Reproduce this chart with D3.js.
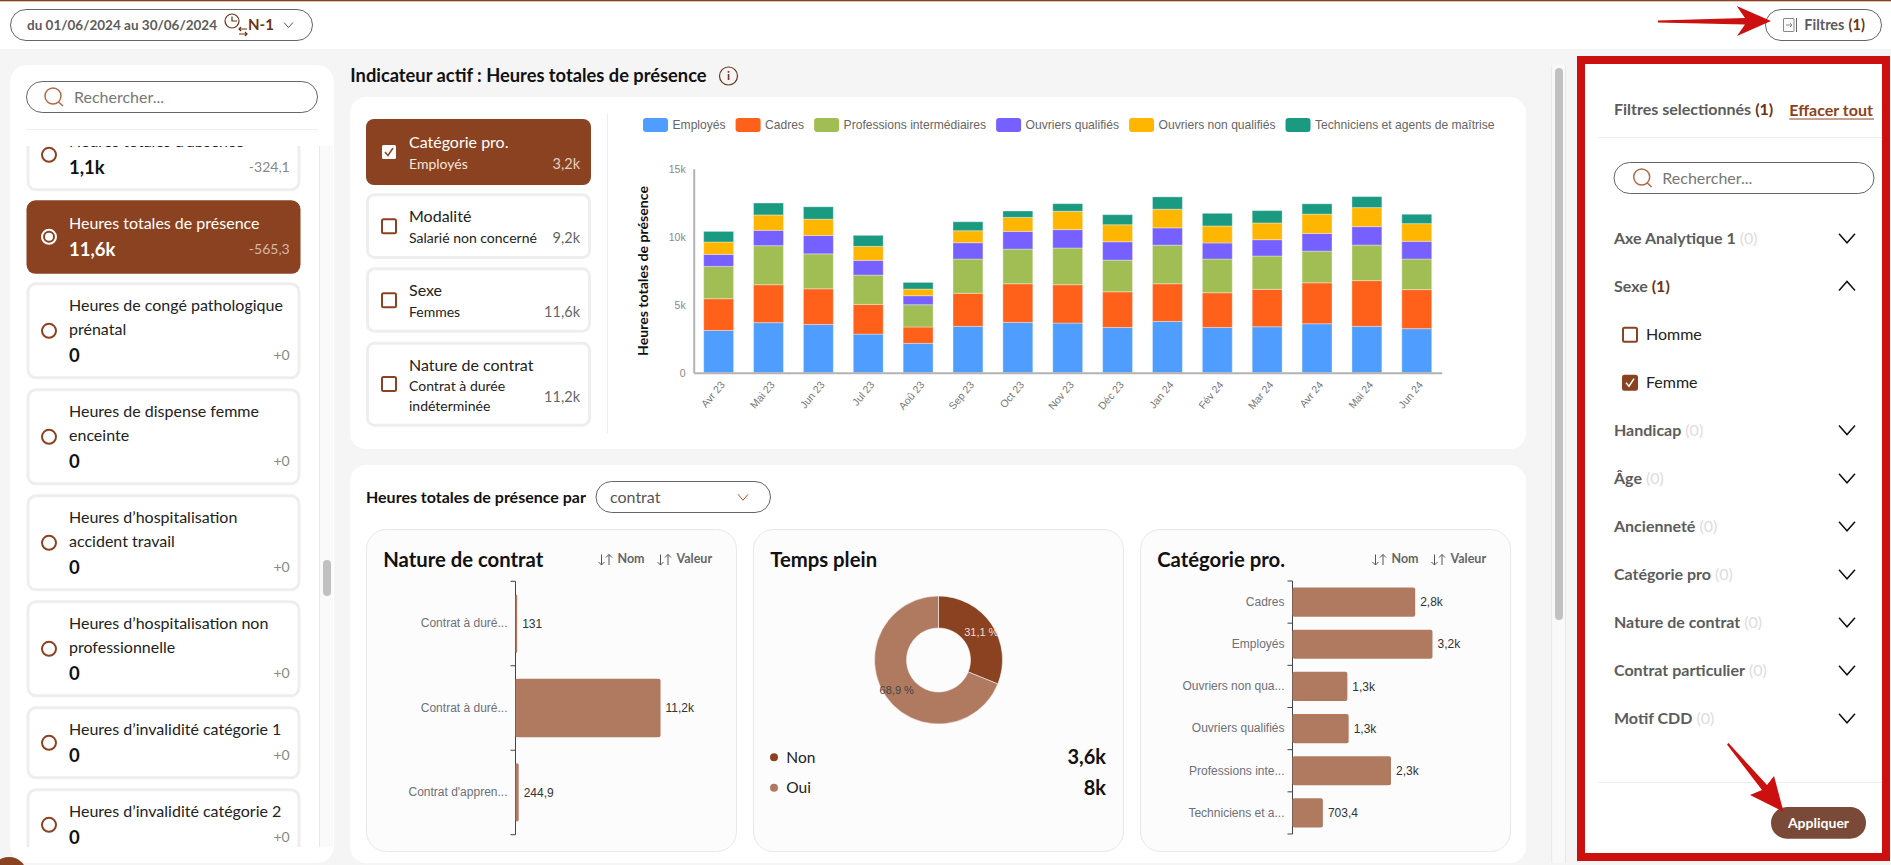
<!DOCTYPE html>
<html>
<head>
<meta charset="utf-8">
<title>Heures totales de présence</title>
<script src="https://d3js.org/d3.v7.min.js"></script>
<style>
    html, body { margin: 0; padding: 0; background: #f5f5f5; overflow: hidden; }
    svg { display: block; font-family: Lato, sans-serif; }
    .chart-text { font-family: "Liberation Sans", Arial, sans-serif; }
</style>
</head>
<body>
<svg id="page" width="1891" height="865"></svg>
<script>
// stacked chart
const months = ["Avr 23", "Mai 23", "Jun 23", "Jul 23", "Aoû 23", "Sep 23", "Oct 23", "Nov 23", "Déc 23", "Jan 24", "Fév 24", "Mar 24", "Avr 24", "Mai 24", "Jun 24"]
const seriesNames = ["Employés", "Cadres", "Professions intermédiaires", "Ouvriers qualifiés", "Ouvriers non qualifiés", "Techniciens et agents de maîtrise"]
const seriesColors = ["#4f9eff", "#ff611b", "#a1be55", "#7660ff", "#ffb600", "#1b9a82"]
const employes = [3110, 3680, 3550, 2840, 2160, 3410, 3700, 3650, 3330, 3770, 3330, 3380, 3600, 3410, 3240]
const cadres = [2330, 2790, 2620, 2180, 1200, 2430, 2840, 2820, 2620, 2770, 2550, 2750, 3010, 3360, 2870]
const professions = [2380, 2870, 2570, 2160, 1640, 2520, 2550, 2700, 2330, 2840, 2480, 2450, 2330, 2620, 2250]
const ouvriersQ = [880, 1130, 1350, 1080, 660, 1200, 1300, 1350, 1350, 1270, 1180, 1200, 1300, 1350, 1300]
const ouvriersNQ = [910, 1130, 1200, 1030, 490, 880, 1030, 1350, 1250, 1370, 1250, 1230, 1420, 1400, 1300]
const techniciens = [780, 880, 910, 810, 490, 660, 470, 560, 740, 910, 930, 910, 760, 810, 690]
const allSeries = [employes, cadres, professions, ouvriersQ, ouvriersNQ, techniciens]
const yTicks = [0, 5000, 10000, 15000]

// side list of indicators
const indicatorLabels = [
    ["Heures totales d’absence"],
    ["Heures totales de présence"],
    ["Heures de congé pathologique", "prénatal"],
    ["Heures de dispense femme", "enceinte"],
    ["Heures d’hospitalisation", "accident travail"],
    ["Heures d’hospitalisation non", "professionnelle"],
    ["Heures d’invalidité catégorie 1"],
    ["Heures d’invalidité catégorie 2"]
]
const indicatorValues = ["1,1k", "11,6k", "0", "0", "0", "0", "0", "0"]
const indicatorDeltas = ["-324,1", "-565,3", "+0", "+0", "+0", "+0", "+0", "+0"]

// axis chips
const chipTitles = ["Catégorie pro.", "Modalité", "Sexe", "Nature de contrat"]
const chipSubs = [["Employés"], ["Salarié non concerné"], ["Femmes"], ["Contrat à durée", "indéterminée"]]
const chipValues = ["3,2k", "9,2k", "11,6k", "11,2k"]

// small charts
const contratCats = ["Contrat à duré...", "Contrat à duré...", "Contrat d'appren..."]
const contratVals = [131, 11200, 244.9]
const tempsCats = ["Non", "Oui"]
const tempsShare = [31.1, 68.9]
const tempsTotals = ["3,6k", "8k"]
const tempsColors = ["#8b4220", "#b07a60"]
const categorieCats = ["Cadres", "Employés", "Ouvriers non qua...", "Ouvriers qualifiés", "Professions inte...", "Techniciens et a..."]
const categorieVals = [2840, 3240, 1270, 1300, 2280, 703.4]

// filters
const filterNames = ["Axe Analytique 1", "Sexe", "Handicap", "Âge", "Ancienneté", "Catégorie pro", "Nature de contrat", "Contrat particulier", "Motif CDD"]
const filterCounts = [0, 1, 0, 0, 0, 0, 0, 0, 0]
const filterY = [238.3, 286, 430, 478.3, 526.3, 574.3, 622.3, 670.3, 718.3]

const brown = "#8b4220"
const barBrown = "#b07a60"
const svg = d3.select("#page")

function txt(g, x, y, s, size, color, opt) {
    opt = opt || {}
    return g.append("text")
        .attr("x", x).attr("y", y)
        .attr("dy", "0.35em")
        .attr("font-size", size)
        .attr("fill", color)
        .attr("font-weight", opt.weight || 400)
        .attr("text-anchor", opt.anchor || "start")
        .attr("class", opt.cls || null)
        .text(s)
}

function box(g, x0, y0, x1, y1, r, fill, stroke, sw) {
    return g.append("rect")
        .attr("x", x0).attr("y", y0)
        .attr("width", x1 - x0).attr("height", y1 - y0)
        .attr("rx", r)
        .attr("fill", fill)
        .attr("stroke", stroke || "none")
        .attr("stroke-width", sw || 1)
}

function hline(g, x0, x1, y, color) {
    g.append("line").attr("x1", x0).attr("x2", x1).attr("y1", y).attr("y2", y).attr("stroke", color)
}

function vline(g, x, y0, y1, color) {
    g.append("line").attr("x1", x).attr("x2", x).attr("y1", y0).attr("y2", y1).attr("stroke", color)
}

function chevron(g, cx, cy, w, h, up, color, sw) {
    let d = up ? `M${cx - w},${cy + h} L${cx},${cy - h} L${cx + w},${cy + h}`
               : `M${cx - w},${cy - h} L${cx},${cy + h} L${cx + w},${cy - h}`
    g.append("path").attr("d", d).attr("fill", "none").attr("stroke", color).attr("stroke-width", sw)
}

function searchBox(g, x0, x1, y0, y1, iconX, textX) {
    box(g, x0, y0, x1, y1, 15.7, "#fff", "#666", 1)
    let cy = (y0 + y1) / 2
    g.append("circle").attr("cx", iconX).attr("cy", cy - 1).attr("r", 8).attr("fill", "none").attr("stroke", "#b06a48").attr("stroke-width", 1.5)
    g.append("path").attr("d", `M${iconX + 5.5},${cy + 5} L${iconX + 10},${cy + 9}`).attr("stroke", "#b06a48").attr("stroke-width", 1.5)
    txt(g, textX, cy, "Rechercher...", 16, "#777")
}

function checkBox(g, x, cy, checked, boxFill, tickColor) {
    box(g, x + 1, cy - 7, x + 15, cy + 7, 1.5, checked ? boxFill : "none", checked && boxFill === "#fff" ? "none" : brown, 2)
    if (checked) {
        g.append("path").attr("d", `M${x + 4},${cy} L${x + 7},${cy + 3.5} L${x + 12},${cy - 4}`)
            .attr("fill", "none").attr("stroke", tickColor).attr("stroke-width", 1.5)
    }
}

function fmtValue(v) {
    if (v >= 1000) return d3.format(".1f")(v / 1000).replace(".", ",") + "k"
    return String(v).replace(".", ",")
}

/* ---------- header ---------- */
let header = svg.append("g")
header.append("rect").attr("width", 1891).attr("height", 49).attr("fill", "#fff")
header.append("rect").attr("width", 1891).attr("height", 1.3).attr("fill", brown)
box(header, 10.5, 9.5, 312.5, 40.5, 15.5, "#fff", "#666", 1)
txt(header, 27, 25, "du 01/06/2024 au 30/06/2024", 13.5, "#5c5c5c", { weight: 700 })
header.append("circle").attr("cx", 232).attr("cy", 21).attr("r", 7).attr("fill", "none").attr("stroke", "#6b3318").attr("stroke-width", 1.2)
header.append("path").attr("d", "M232,16.5 V21 H237 M239,29 H247 M241,27 L239,29 L241,31 M239,34 H247 M245,32 L247,34 L245,36")
    .attr("fill", "none").attr("stroke", "#6b3318").attr("stroke-width", 1.2)
txt(header, 248, 25, "N-1", 15, "#6b3318", { weight: 700 })
chevron(header, 288.5, 25, 4.5, 2.5, false, "#555", 1)

box(header, 1765.5, 9.5, 1881.5, 40.5, 15.5, "#fff", "#666", 1)
box(header, 1783.5, 18.5, 1794, 31.5, 0.5, "none", "#888", 1)
vline(header, 1796.5, 18, 32, "#666")
header.append("path").attr("d", "M1786,25 H1792 M1790,23 L1792,25 L1790,27").attr("fill", "none").attr("stroke", "#888")
txt(header, 1804.3, 25, "Filtres", 14.5, "#5c5c5c", { weight: 700 })
txt(header, 1848.5, 25, "(1)", 14.5, "#6b3318", { weight: 700 })

/* ---------- left list ---------- */
let left = svg.append("g")
left.append("path")
    .attr("d", "M10,85 Q10,65 30,65 H314 Q334,65 334,85 V843 Q334,863 314,863 H30 Q10,863 10,843 Z")
    .attr("fill", "#fff")
left.append("rect").attr("x", 319).attr("y", 146).attr("width", 14).attr("height", 701).attr("fill", "#fafafa")
vline(left, 319.5, 146, 847, "#e8e8e8")
box(left, 323, 560, 331, 596, 4, "#c1c1c1")
searchBox(left, 26.5, 317.5, 81.5, 112.5, 53, 74)
hline(left, 26, 318, 129.5, "#eee")

svg.append("clipPath").attr("id", "listClip").append("rect").attr("x", 10).attr("y", 146).attr("width", 309).attr("height", 701)
let list = left.append("g").attr("clip-path", "url(#listClip)")
let cardTop = 118.3
indicatorLabels.forEach((lines, i) => {
    let active = i === 1
    let h = lines.length === 2 ? 97 : 73
    if (active) {
        box(list, 26.5, cardTop, 300.5, cardTop + h + 0.5, 9, brown)
    } else {
        box(list, 28, cardTop + 1.5, 299, cardTop + h - 1.5, 8, "#fff", "#eeeeee", 3)
    }
    let color = active ? "#fff" : "#222"
    lines.forEach((l, j) => txt(list, 69, cardTop + 23.2 + j * 24, l, 16, color))
    txt(list, 69, cardTop + h - 24, indicatorValues[i], 18.5, active ? "#fff" : "#111", { weight: 700 })
    txt(list, 289.7, cardTop + h - 24.5, indicatorDeltas[i], 14, active ? "#d5b8a8" : "#888", { anchor: "end" })
    let cy = cardTop + h / 2
    list.append("circle").attr("cx", 49).attr("cy", cy).attr("r", 7).attr("fill", "none")
        .attr("stroke", active ? "#fff" : brown).attr("stroke-width", 2)
    if (active) list.append("circle").attr("cx", 49).attr("cy", cy).attr("r", 4).attr("fill", "#fff")
    cardTop += h + 9
})
svg.append("circle").attr("cx", 9).attr("cy", 875).attr("r", 18).attr("fill", brown)

/* ---------- top panel ---------- */
let mid = svg.append("g")
txt(mid, 350.3, 76, "Indicateur actif : Heures totales de présence", 18.3, "#111", { weight: 700 })
mid.append("circle").attr("cx", 728.5).attr("cy", 76).attr("r", 9).attr("fill", "none").attr("stroke", "#6b3318").attr("stroke-width", 1.2)
txt(mid, 728.5, 76, "i", 12, "#6b3318", { anchor: "middle", weight: 700 })
box(mid, 350, 97, 1526, 449, 16, "#fff")
vline(mid, 607.5, 113, 433, "#eee")

let chipTops = [119, 193.3, 267.3, 341.7]
let chipBottoms = [185, 259, 332.7, 426.7]
chipTitles.forEach((t, i) => {
    let active = i === 0
    if (active) box(mid, 366, chipTops[i], 591, chipBottoms[i], 8, brown)
    else box(mid, 367.5, chipTops[i] + 1.5, 589.5, chipBottoms[i] - 1.5, 7, "#fff", "#eeeeee", 3)
    let y = chipTops[i] + 23.4
    txt(mid, 409, y, t, 16, active ? "#fff" : "#222")
    chipSubs[i].forEach((s, j) => txt(mid, 409, y + 21.4 + j * 20, s, 14, active ? "#f3e6de" : "#222"))
    let valueY = y + 21.4 + (chipSubs[i].length - 1) * 10
    txt(mid, 580, valueY, chipValues[i], 14.5, active ? "#e3cfc3" : "#666", { anchor: "end" })
    checkBox(mid, 381, chipTops[i] + 33 + (i === 3 ? 9.3 : 0), active, "#fff", brown)
})

/* ---------- stacked bars ---------- */
let table = months.map((m, i) => {
    let row = { month: m }
    seriesNames.forEach((s, k) => { row[s] = allSeries[k][i] })
    return row
})
let stacked = d3.stack().keys(seriesNames)(table)
let xMonth = d3.scaleBand().domain(months).range([693.7, 1441.7]).paddingInner(0.4).paddingOuter(0.2)
let yHours = d3.scaleLinear().domain([0, 15000]).range([372.7, 168.7])

let chart = svg.append("g").attr("class", "chart-text")
chart.selectAll("g.serie").data(stacked).enter().append("g")
    .attr("class", "serie")
    .attr("fill", (d, i) => seriesColors[i])
    .selectAll("rect").data(d => d).enter().append("rect")
    .attr("x", d => xMonth(d.data.month))
    .attr("width", xMonth.bandwidth())
    .attr("y", d => yHours(d[1]))
    .attr("height", d => yHours(d[0]) - yHours(d[1]))
    .attr("stroke", "#fff").attr("stroke-opacity", 0.35).attr("stroke-width", 1)

let yAxis = chart.append("g").attr("transform", "translate(693.7,0)")
    .call(d3.axisLeft(yHours).tickValues(yTicks).tickSize(0).tickPadding(8).tickFormat(d => d === 0 ? "0" : (d / 1000) + "k"))
yAxis.select(".domain").attr("stroke", "#b3b3b3").attr("stroke-width", 2)
yAxis.selectAll("text").attr("font-size", 10.5).attr("fill", "#888").attr("font-family", "Liberation Sans")

let xAxis = chart.append("g").attr("transform", "translate(0,372.7)")
    .call(d3.axisBottom(xMonth).tickSize(0))
xAxis.select(".domain").attr("stroke", "#b3b3b3").attr("stroke-width", 2)
xAxis.selectAll("text")
    .attr("font-size", 10.5).attr("fill", "#777").attr("font-family", "Liberation Sans")
    .attr("text-anchor", "end")
    .attr("dy", "0.35em")
    .attr("transform", "translate(4,10) rotate(-50)")
    .attr("y", 0)

svg.append("text").attr("transform", "translate(643.5,271) rotate(-90)")
    .attr("text-anchor", "middle").attr("dy", "0.35em")
    .attr("font-size", 14.1).attr("font-weight", 700).attr("fill", "#111")
    .text("Heures totales de présence")

let legend = chart.append("g")
let legendX = 643
seriesNames.forEach((s, i) => {
    box(legend, legendX, 118, legendX + 25, 132, 3, seriesColors[i])
    let t = txt(legend, legendX + 29.5, 125, s, 12.1, "#666", { cls: "chart-text" })
    legendX += 29.5 + t.node().getComputedTextLength() + 10
})

/* ---------- lower panel ---------- */
let low = svg.append("g")
box(low, 350, 465, 1526, 863, 16, "#fff")
txt(low, 366, 497.3, "Heures totales de présence par", 16, "#111", { weight: 700 })
box(low, 596, 481.5, 770.5, 512.5, 15.5, "#fff", "#666", 1)
txt(low, 610, 497.3, "contrat", 16, "#555")
chevron(low, 743, 497.3, 5, 3, false, "#b5532a", 1)

let cardX = [366.5, 753.5, 1140.5]
let cardTitles = ["Nature de contrat", "Temps plein", "Catégorie pro."]
cardX.forEach((x, i) => {
    box(low, x, 529.5, x + 370, 851.5, 20, "#fcfcfc", "#e8e8e8", 1)
    txt(low, x + 16.7, 560, cardTitles[i], 20.3, "#111", { weight: 700 })
})

function sortLabels(x) {
    [["Nom", 0], ["Valeur", 59]].forEach(d => {
        let a = x + d[1]
        low.append("path")
            .attr("d", `M${a + 3.5},554.5 V565 M${a + 0.5},562 L${a + 3.5},565 L${a + 6.5},562 M${a + 11},565 V554.5 M${a + 8},557.5 L${a + 11},554.5 L${a + 14},557.5`)
            .attr("fill", "none").attr("stroke", "#555").attr("stroke-width", 1)
        txt(low, a + 19.5, 559, d[0], 12.5, "#666", { weight: 700 })
    })
}
sortLabels(598)
sortLabels(1372)

function barChart(cats, vals, axisX, y0, y1, pxPerUnit) {
    let g = svg.append("g").attr("class", "chart-text")
    let domain = cats.map((c, i) => i)
    let y = d3.scaleBand().domain(domain).range([y0, y1])
    y.paddingInner(0.31).paddingOuter(0.155)
    let x = d3.scaleLinear().domain([0, 1000]).range([axisX, axisX + 1000 * pxPerUnit])
    let axis = g.append("g").attr("transform", `translate(${axisX},0)`)
        .call(d3.axisLeft(y).tickSize(0).tickPadding(8).tickFormat(i => cats[i]))
    axis.select(".domain").remove()
    axis.selectAll("text").attr("font-size", 12).attr("fill", "#6e7079").attr("font-family", "Liberation Sans")
    let step = (y1 - y0) / cats.length
    vline(g, axisX, y0, y1, "#444")
    d3.range(cats.length + 1).forEach(i => hline(g, axisX - 5, axisX, y0 + i * step, "#444"))
    g.selectAll("rect").data(vals).enter().append("rect")
        .attr("x", axisX)
        .attr("y", (d, i) => y(i))
        .attr("width", d => x(d) - axisX)
        .attr("height", y.bandwidth())
        .attr("rx", 2)
        .attr("fill", barBrown)
    g.selectAll("text.val").data(vals).enter().append("text")
        .attr("class", "val")
        .attr("x", d => x(d) + 5)
        .attr("y", (d, i) => y(i) + y.bandwidth() / 2)
        .attr("dy", "0.35em")
        .attr("font-size", 12)
        .attr("fill", "#333")
        .text(fmtValue)
}
barChart(contratCats, contratVals, 515.5, 581.3, 834.7, 0.01295)
barChart(categorieCats, categorieVals, 1292.5, 581, 834, 0.0432)

/* ---------- donut ---------- */
let donut = svg.append("g").attr("class", "chart-text").attr("transform", "translate(938.5,660)")
let pie = d3.pie().sort(null)(tempsShare)
let arc = d3.arc().innerRadius(32).outerRadius(64)
donut.selectAll("path").data(pie).enter().append("path")
    .attr("d", arc)
    .attr("fill", (d, i) => tempsColors[i])
    .attr("stroke", "#fff").attr("stroke-width", 0.5)
donut.selectAll("text").data(pie).enter().append("text")
    .attr("transform", (d, i) => `translate(${arc.centroid(d)[0] + (i === 0 ? 3 : -2)},${arc.centroid(d)[1] + (i === 0 ? -1 : 3)})`)
    .attr("text-anchor", "middle").attr("dy", "0.35em")
    .attr("font-size", 11)
    .attr("fill", (d, i) => i === 0 ? "#f0ddd2" : "#444")
    .text(d => String(d.data).replace(".", ",") + " %")

tempsCats.forEach((c, i) => {
    let y = 757.3 + i * 30.4
    low.append("circle").attr("cx", 774).attr("cy", y).attr("r", 4).attr("fill", tempsColors[i])
    txt(low, 786.3, y, c, 15.5, "#222")
    txt(low, 1106, y, tempsTotals[i], 20, "#111", { anchor: "end", weight: 700 })
})

/* ---------- middle scrollbar ---------- */
let scroll = svg.append("g")
scroll.append("rect").attr("x", 1552).attr("y", 65).attr("width", 13.5).attr("height", 798).attr("fill", "#f9f9f9")
vline(scroll, 1551.7, 65, 863, "#e8e8e8")
vline(scroll, 1565.5, 65, 863, "#e8e8e8")
box(scroll, 1555, 68, 1563, 620, 4, "#c1c1c1")

/* ---------- filters panel ---------- */
let panel = svg.append("g")
panel.append("rect").attr("x", 1581).attr("y", 60).attr("width", 305).attr("height", 797)
    .attr("fill", "#fff").attr("stroke", "#cc0f0f").attr("stroke-width", 8)

let t1 = txt(panel, 1614, 109, "Filtres selectionnés", 16, "#5c5c5c", { weight: 700 })
txt(panel, 1614 + t1.node().getComputedTextLength() + 4, 109, "(1)", 16, "#6b3318", { weight: 700 })
txt(panel, 1789.3, 110.3, "Effacer tout", 16, brown, { weight: 700 })
hline(panel, 1789.3, 1874, 119, brown)
hline(panel, 1598, 1882, 137.5, "#eee")
searchBox(panel, 1614, 1874, 162.5, 193.5, 1641.7, 1662.3)

filterNames.forEach((n, i) => {
    let y = filterY[i]
    let t = txt(panel, 1614, y, n, 16, "#5c5c5c", { weight: 700 })
    let x = 1614 + t.node().getComputedTextLength() + 4
    let open = filterCounts[i] > 0
    txt(panel, x, y, `(${filterCounts[i]})`, 16, open ? "#6b3318" : "#ddd", { weight: open ? 700 : 400 })
    chevron(panel, 1847, y, 8, 4.5, open, "#111", 1.5)
})
checkBox(panel, 1622, 334.7, false, brown, "#fff")
checkBox(panel, 1622, 382.7, true, brown, "#fff")
txt(panel, 1646, 334.7, "Homme", 16, "#222")
txt(panel, 1646, 382.7, "Femme", 16, "#222")

hline(panel, 1598, 1882, 782.5, "#eee")
box(panel, 1771, 807, 1866, 838.7, 15.8, "#7a4a38")
txt(panel, 1818.5, 823, "Appliquer", 14, "#fff", { anchor: "middle", weight: 700 })

/* ---------- red annotation arrows ---------- */
svg.append("path").attr("fill", "#cc0f0f")
    .attr("d", "M1658,20.5 L1745,18 L1736.7,6 L1771,21 L1737,36 L1745,24.5 L1658,22.5 Z")
svg.append("path").attr("fill", "#cc0f0f")
    .attr("d", "M1728.5,743 L1767,785 L1774,776 L1783.5,811.7 L1750,795 L1762,790 L1727,744.5 Z")
</script>
</body>
</html>
